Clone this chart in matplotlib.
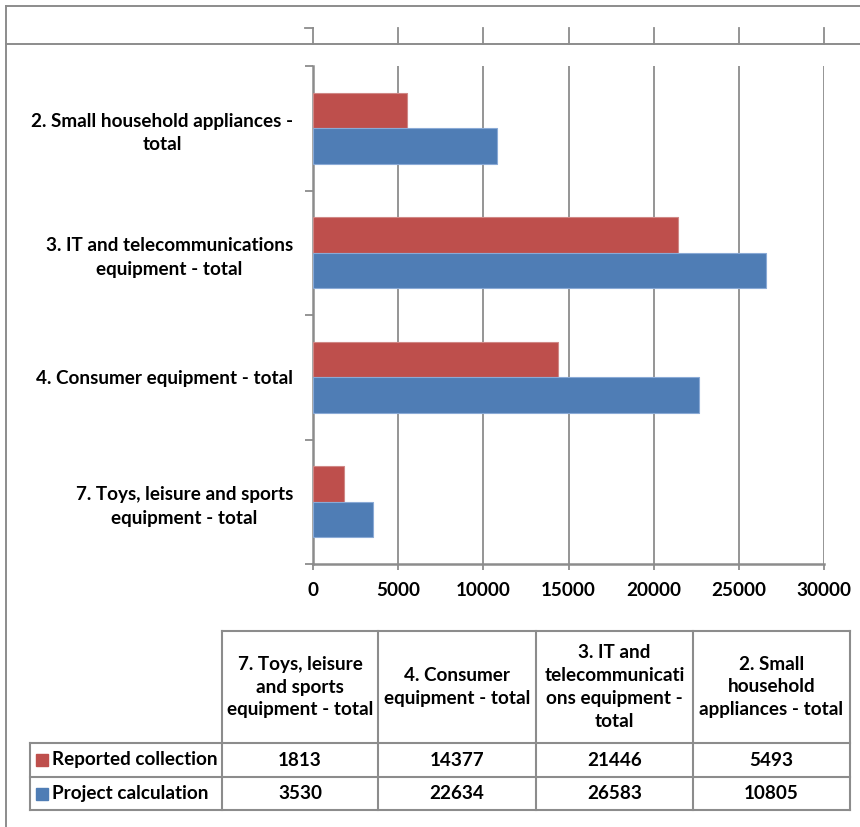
import numpy as np
import matplotlib
matplotlib.use("Agg")
import matplotlib.pyplot as plt
from matplotlib.patches import Rectangle

# ---- data -------------------------------------------------------------
categories = [
    "7. Toys, leisure and sports equipment - total",
    "4. Consumer equipment - total",
    "3. IT and telecommunications equipment - total",
    "2. Small household appliances - total",
]
axis_labels = [
    "7. Toys, leisure and sports\nequipment - total",
    "4. Consumer equipment - total",
    "3. IT and telecommunications\nequipment - total",
    "2. Small household appliances -\ntotal",
]
table_headers = [
    "7. Toys, leisure\nand sports\nequipment - total",
    "4. Consumer\nequipment - total",
    "3. IT and\ntelecommunicati\nons equipment -\ntotal",
    "2. Small\nhousehold\nappliances - total",
]
series_names = ["Reported collection", "Project calculation"]
reported = [1813, 14377, 21446, 5493]
project = [3530, 22634, 26583, 10805]
x_ticks = [0, 5000, 10000, 15000, 20000, 25000, 30000]

# ---- style ------------------------------------------------------------
RED = "#BE4F4C"
BLUE = "#4F7DB5"
RED_EDGE = "#D08886"
BLUE_EDGE = "#8AAAD6"
GRID = "#8C8C8C"
LINE = "#8C8C8C"
FONT = "Lato"
FS = 13.6

plt.rcParams["font.family"] = [FONT, "DejaVu Sans"]
plt.rcParams["font.weight"] = "bold"

W, H = 860, 827
fig = plt.figure(figsize=(W / 100, H / 100), dpi=100)


def px_rect(x0, y0, x1, y1):
    return [x0 / W, 1 - y1 / H, (x1 - x0) / W, (y1 - y0) / H]


# background layer in pixel coordinates: frame, table
bg = fig.add_axes([0, 0, 1, 1], zorder=0)
bg.set_xlim(0, W)
bg.set_ylim(H, 0)
bg.axis("off")

# ---- main bar chart ---------------------------------------------------
ax_left, ax_right, ax_top, ax_bottom = 313, 824, 66, 564
ax = fig.add_axes(px_rect(ax_left, ax_top, ax_right, ax_bottom), zorder=1)
ax.patch.set_alpha(0)

y = np.arange(len(categories))
h = 0.285
ax.barh(y + h / 2, reported, height=h, color=RED, edgecolor=RED_EDGE,
        linewidth=0.8, label=series_names[0], zorder=3)
ax.barh(y - h / 2, project, height=h, color=BLUE, edgecolor=BLUE_EDGE,
        linewidth=0.8, label=series_names[1], zorder=3)

ax.set_xlim(x_ticks[0], x_ticks[-1])
ax.set_ylim(-0.5, len(categories) - 0.5)
ax.set_xticks(x_ticks)
ax.set_xticklabels([str(v) for v in x_ticks], fontsize=FS, fontweight="bold")
ax.xaxis.grid(True, color=GRID, linewidth=1.3)
ax.set_axisbelow(True)

ax.set_yticks(y)
ax.set_yticklabels(axis_labels, fontsize=FS, fontweight="bold",
                   ha="right", multialignment="center", linespacing=1.48)
ax.set_yticks(np.arange(-0.5, len(categories)), minor=True)
ax.tick_params(axis="y", which="major", length=0, pad=14.4)
ax.tick_params(axis="y", which="minor", length=5.8, width=1.3, color=LINE)
ax.tick_params(axis="x", length=4.3, width=1.3, color=LINE, pad=8.5)

for side in ("top", "right"):
    ax.spines[side].set_visible(False)
for side in ("left", "bottom"):
    ax.spines[side].set_color(LINE)
    ax.spines[side].set_linewidth(1.8)

# ---- outer frame and the strip above the chart ------------------------
lw_frame = 1.4
bg.plot([6, 6], [6, H], color=LINE, lw=lw_frame)
bg.plot([6, W], [6, 6], color=LINE, lw=lw_frame)
bg.plot([6, W], [44, 44], color=LINE, lw=lw_frame)
for v in x_ticks:
    xp = ax_left + (v - x_ticks[0]) / (x_ticks[-1] - x_ticks[0]) * (ax_right - ax_left)
    bg.plot([xp, xp], [28, 44], color=GRID, lw=1.3)
bg.plot([305, ax_left], [28, 28], color=LINE, lw=1.3)

# ---- data table -------------------------------------------------------
col_edges = [222, 378, 536, 693, 850]
tab_left = 30
head_top, head_bot = 631, 743
row_edges = [743, 777, 810]
tlw = 1.5

# header cells
bg.plot([col_edges[0], col_edges[-1]], [head_top, head_top], color=LINE, lw=tlw)
for xe in col_edges:
    bg.plot([xe, xe], [head_top, row_edges[-1]], color=LINE, lw=tlw)
# data rows
for ye in row_edges:
    bg.plot([tab_left, col_edges[-1]], [ye, ye], color=LINE, lw=tlw)
bg.plot([tab_left, tab_left], [row_edges[0], row_edges[-1]], color=LINE, lw=tlw)

for i, lab in enumerate(table_headers):
    cx = (col_edges[i] + col_edges[i + 1]) / 2
    bg.text(cx, (head_top + head_bot) / 2, lab, ha="center", va="center",
            multialignment="center", fontsize=FS, fontweight="bold",
            linespacing=1.42)

series_values = [reported, project]
series_colors = [RED, BLUE]
for r, (name, vals, col) in enumerate(zip(series_names, series_values, series_colors)):
    cy = (row_edges[r] + row_edges[r + 1]) / 2
    bg.add_patch(Rectangle((36, cy - 6), 12, 12, color=col))
    bg.text(52, cy, name, ha="left", va="center", fontsize=FS,
            fontweight="bold")
    for i, v in enumerate(vals):
        cx = (col_edges[i] + col_edges[i + 1]) / 2
        bg.text(cx, cy, str(v), ha="center", va="center", fontsize=FS,
                fontweight="bold")

fig.savefig("out.png", dpi=100)
